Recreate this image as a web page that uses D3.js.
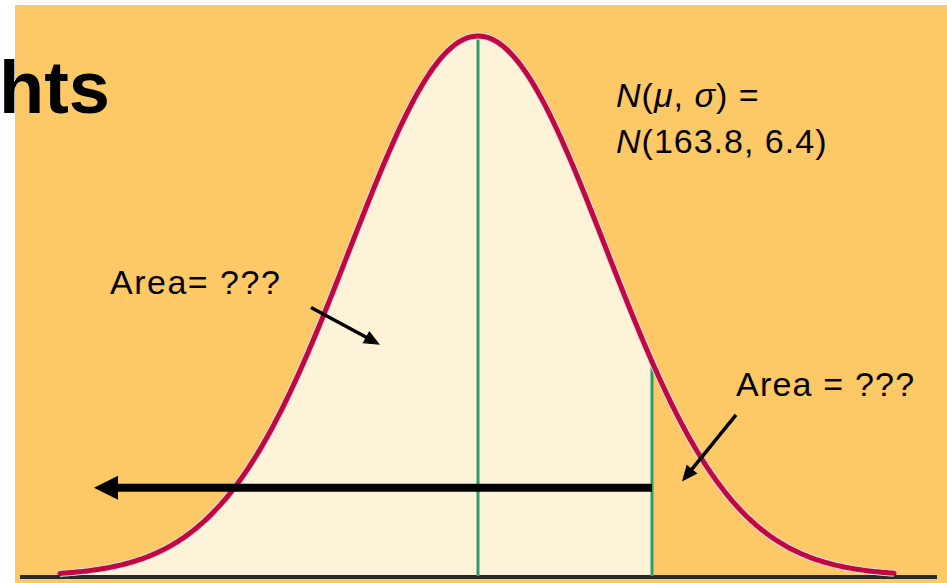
<!DOCTYPE html>
<html>
<head>
<meta charset="utf-8">
<script src="https://cdn.jsdelivr.net/npm/d3@7"></script>
<style>
  body { margin: 0; background: #fff; }
  text { font-family: "Liberation Sans", Arial, sans-serif; }
</style>
</head>
<body>
<div id="chart"></div>
<script>
// distribution parameters (from the label)
var mu = 163.8;
var sigma = 6.4;
var cutoff = 172.5;           // second green line
var curveRange = [142.9, 184.6]; // where the drawn curve starts / ends

// annotation labels
var paramLines = ["N(\u03bc, \u03c3) =", "N(163.8, 6.4)"];
var areaLabels = ["Area= ???", "Area = ???"];

// arrows, in data units [x, density]
var bigArrow = [[cutoff, 0.0102], [144.6, 0.0102]];
var leftArrow = [[155.45, 0.0310], [158.9, 0.0267]];
var rightArrow = [[176.7, 0.0186], [174.0, 0.0109]];

var width = 947, height = 583;

var svg = d3.select("#chart").append("svg")
    .attr("width", width)
    .attr("height", height);

// white strip left/top, orange panel
svg.append("rect")
    .attr("x", 15).attr("y", 5)
    .attr("width", width - 15).attr("height", height - 5)
    .style("fill", "#fdc966");

var x = d3.scaleLinear().domain([140, 190]).range([2, 1002]);
var pdf = function(v) {
    return Math.exp(-0.5 * Math.pow((v - mu) / sigma, 2)) / (sigma * Math.sqrt(2 * Math.PI));
};
var y = d3.scaleLinear().domain([0, pdf(mu)]).range([576, 36]);

// sample the curve
var pts = [];
var n = 400;
for (var i = 0; i <= n; i++) {
    var v = curveRange[0] + (curveRange[1] - curveRange[0]) * i / n;
    pts.push(v);
}
var left = pts.filter(function(v) { return v <= cutoff; });
left.push(cutoff);

// shaded area left of the cutoff
svg.append("path")
    .datum(left)
    .attr("d", d3.area()
        .x(function(d) { return x(d); })
        .y0(y(0))
        .y1(function(d) { return y(pdf(d)); }))
    .style("fill", "#fcf3d8");

// baseline
svg.append("line")
    .attr("x1", 20).attr("x2", 937)
    .attr("y1", y(0) + 1).attr("y2", y(0) + 1)
    .style("stroke", "#2a2a2a")
    .style("stroke-width", 4);

// green lines at mean and cutoff
svg.selectAll(".vline")
    .data([mu, cutoff])
    .enter().append("line")
    .attr("class", "vline")
    .attr("x1", function(d) { return x(d); })
    .attr("x2", function(d) { return x(d); })
    .attr("y1", y(0))
    .attr("y2", function(d) { return y(pdf(d)); })
    .style("stroke", "#2e9c68")
    .style("stroke-width", 3);

// the curve, with a pale halo
var line = d3.line()
    .x(function(d) { return x(d); })
    .y(function(d) { return y(pdf(d)); });

svg.append("path").datum(pts).attr("d", line)
    .style("fill", "none").style("stroke", "#d6dcea").style("stroke-width", 7);
svg.append("path").datum(pts).attr("d", line)
    .style("fill", "none").style("stroke", "#c4063f").style("stroke-width", 5)
    .style("stroke-linecap", "round");

// arrows
function arrow(a, w, head, len) {
    var x0 = x(a[0][0]), y0 = y(a[0][1]);
    var x1 = x(a[1][0]), y1 = y(a[1][1]);
    var ang = Math.atan2(y1 - y0, x1 - x0);
    var bx = x1 - len * Math.cos(ang), by = y1 - len * Math.sin(ang);
    svg.append("line")
        .attr("x1", x0).attr("y1", y0)
        .attr("x2", bx + 2 * Math.cos(ang)).attr("y2", by + 2 * Math.sin(ang))
        .style("stroke", "#000").style("stroke-width", w);
    var px = -Math.sin(ang) * head, py = Math.cos(ang) * head;
    svg.append("path")
        .attr("d", "M" + x1 + "," + y1 + "L" + (bx + px) + "," + (by + py) + "L" + (bx - px) + "," + (by - py) + "Z")
        .style("fill", "#000");
}
arrow(bigArrow, 8, 12, 24);
arrow(leftArrow, 3.5, 7, 16);
arrow(rightArrow, 3.5, 7, 16);

// texts
svg.append("text")
    .attr("x", 110).attr("y", 113)
    .attr("text-anchor", "end")
    .style("font-size", "74px").style("font-weight", "bold")
    .text("hts");

var p1 = svg.append("text").attr("x", 616).attr("y", 107)
    .style("font-size", "34px").style("letter-spacing", "1px");
p1.append("tspan").style("font-style", "italic").text("N");
p1.append("tspan").text("(");
p1.append("tspan").style("font-style", "italic").text("\u03bc");
p1.append("tspan").text(", ");
p1.append("tspan").style("font-style", "italic").text("\u03c3");
p1.append("tspan").text(") =");

var p2 = svg.append("text").attr("x", 616).attr("y", 153)
    .style("font-size", "34px").style("letter-spacing", "1px");
p2.append("tspan").style("font-style", "italic").text("N");
p2.append("tspan").text(paramLines[1].slice(1));

svg.append("text")
    .attr("x", 110).attr("y", 294)
    .style("font-size", "34px").style("letter-spacing", "1.5px")
    .text(areaLabels[0]);

svg.append("text")
    .attr("x", 736).attr("y", 396)
    .style("font-size", "34px").style("letter-spacing", "1.2px")
    .text(areaLabels[1]);
</script>
</body>
</html>
